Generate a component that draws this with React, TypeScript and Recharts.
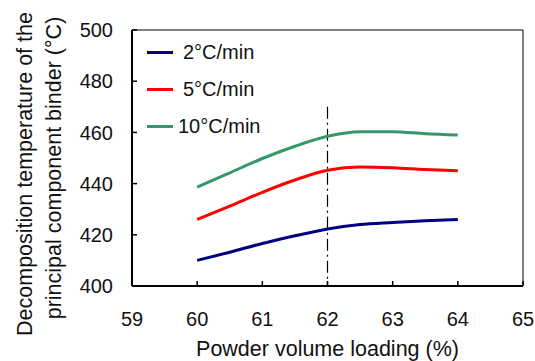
import React from "react";
import {
  LineChart,
  Line,
  XAxis,
  YAxis,
  ReferenceLine,
  Label,
} from "recharts";

// powder volume loading (%)
const loading = [60, 60.5, 61, 61.5, 62, 62.5, 63, 63.5, 64];
// decomposition temperature (°C) per heating rate
const rate2 = [410, 413.2, 416.6, 419.6, 422.3, 424, 424.8, 425.5, 426];
const rate5 = [426, 431.2, 436.6, 441.4, 445.2, 446.5, 446.2, 445.5, 445];
const rate10 = [438.6, 444.2, 449.8, 454.6, 458.5, 460.3, 460.3, 459.5, 459];

const xTicks = [59, 60, 61, 62, 63, 64, 65];
const yTicks = [400, 420, 440, 460, 480, 500];

const seriesNames = ["2°C/min", "5°C/min", "10°C/min"];
const seriesColors = ["#000080", "#ff0000", "#339966"];

const FONT = "'Liberation Sans', Arial, sans-serif";

const data = loading.map((x, i) => ({
  x,
  r2: rate2[i],
  r5: rate5[i],
  r10: rate10[i],
}));

const tickStyle = { fontSize: 20, fill: "#111", fontFamily: FONT };

function LegendBox() {
  return (
    <div
      style={{
        position: "absolute",
        left: 147,
        top: 34,
        fontFamily: FONT,
        fontSize: 20,
        color: "#111",
      }}
    >
      {seriesNames.map((name, i) => (
        <div
          key={name}
          style={{ display: "flex", alignItems: "center", height: 37 }}
        >
          <div
            style={{
              width: 26,
              height: 3,
              background: seriesColors[i],
              marginRight: i === 2 ? 5 : 10,
            }}
          />
          <span>{name}</span>
        </div>
      ))}
    </div>
  );
}

// two-line rotated y label, placed at the left edge
function YLabel() {
  const common = {
    textAnchor: "middle" as const,
    dominantBaseline: "central" as const,
    fontSize: 21.5,
    fontFamily: FONT,
    fill: "#111",
  };
  return (
    <g>
      <text x={25} y={174} transform="rotate(-90 25 174)" {...common}>
        Decomposition temperature of the
      </text>
      <text x={54} y={168} transform="rotate(-90 54 168)" {...common}>
        principal component binder (°C)
      </text>
    </g>
  );
}

export default function App() {
  return (
    <div
      style={{
        position: "absolute",
        left: 0,
        top: 0,
        width: 535,
        height: 361,
        background: "#fff",
      }}
    >
      <LineChart
        width={535}
        height={361}
        data={data}
        margin={{ top: 30, right: 12, left: 0, bottom: 0 }}
      >
        <XAxis
          dataKey="x"
          type="number"
          domain={[59, 65]}
          ticks={xTicks}
          tick={tickStyle}
          tickSize={-5}
          tickMargin={31}
          axisLine={{ stroke: "#000", strokeWidth: 2 }}
          tickLine={{ stroke: "#000", strokeWidth: 1.5 }}
          height={75}
        >
          <Label
            value="Powder volume loading (%)"
            position="insideBottom"
            offset={5}
            style={{ fontSize: 21.5, fill: "#111", fontFamily: FONT }}
          />
        </XAxis>
        <YAxis
          type="number"
          domain={[400, 500]}
          ticks={yTicks}
          tick={tickStyle}
          tickSize={-5}
          tickMargin={24}
          width={132}
          axisLine={{ stroke: "#000", strokeWidth: 2 }}
          tickLine={{ stroke: "#000", strokeWidth: 1.5 }}
          label={<YLabel />}
        />
        <ReferenceLine y={500} stroke="#000" strokeWidth={1} />
        <ReferenceLine x={65} stroke="#000" strokeWidth={1} />
        <ReferenceLine
          segment={[
            { x: 62, y: 470 },
            { x: 62, y: 400 },
          ]}
          stroke="#000"
          strokeWidth={1.2}
          strokeDasharray="12 4 2 4"
        />
        <Line
          type="monotone"
          dataKey="r2"
          name={seriesNames[0]}
          stroke={seriesColors[0]}
          strokeWidth={3}
          dot={false}
          isAnimationActive={false}
        />
        <Line
          type="monotone"
          dataKey="r5"
          name={seriesNames[1]}
          stroke={seriesColors[1]}
          strokeWidth={3}
          dot={false}
          isAnimationActive={false}
        />
        <Line
          type="monotone"
          dataKey="r10"
          name={seriesNames[2]}
          stroke={seriesColors[2]}
          strokeWidth={3}
          dot={false}
          isAnimationActive={false}
        />
      </LineChart>
      <LegendBox />
    </div>
  );
}
